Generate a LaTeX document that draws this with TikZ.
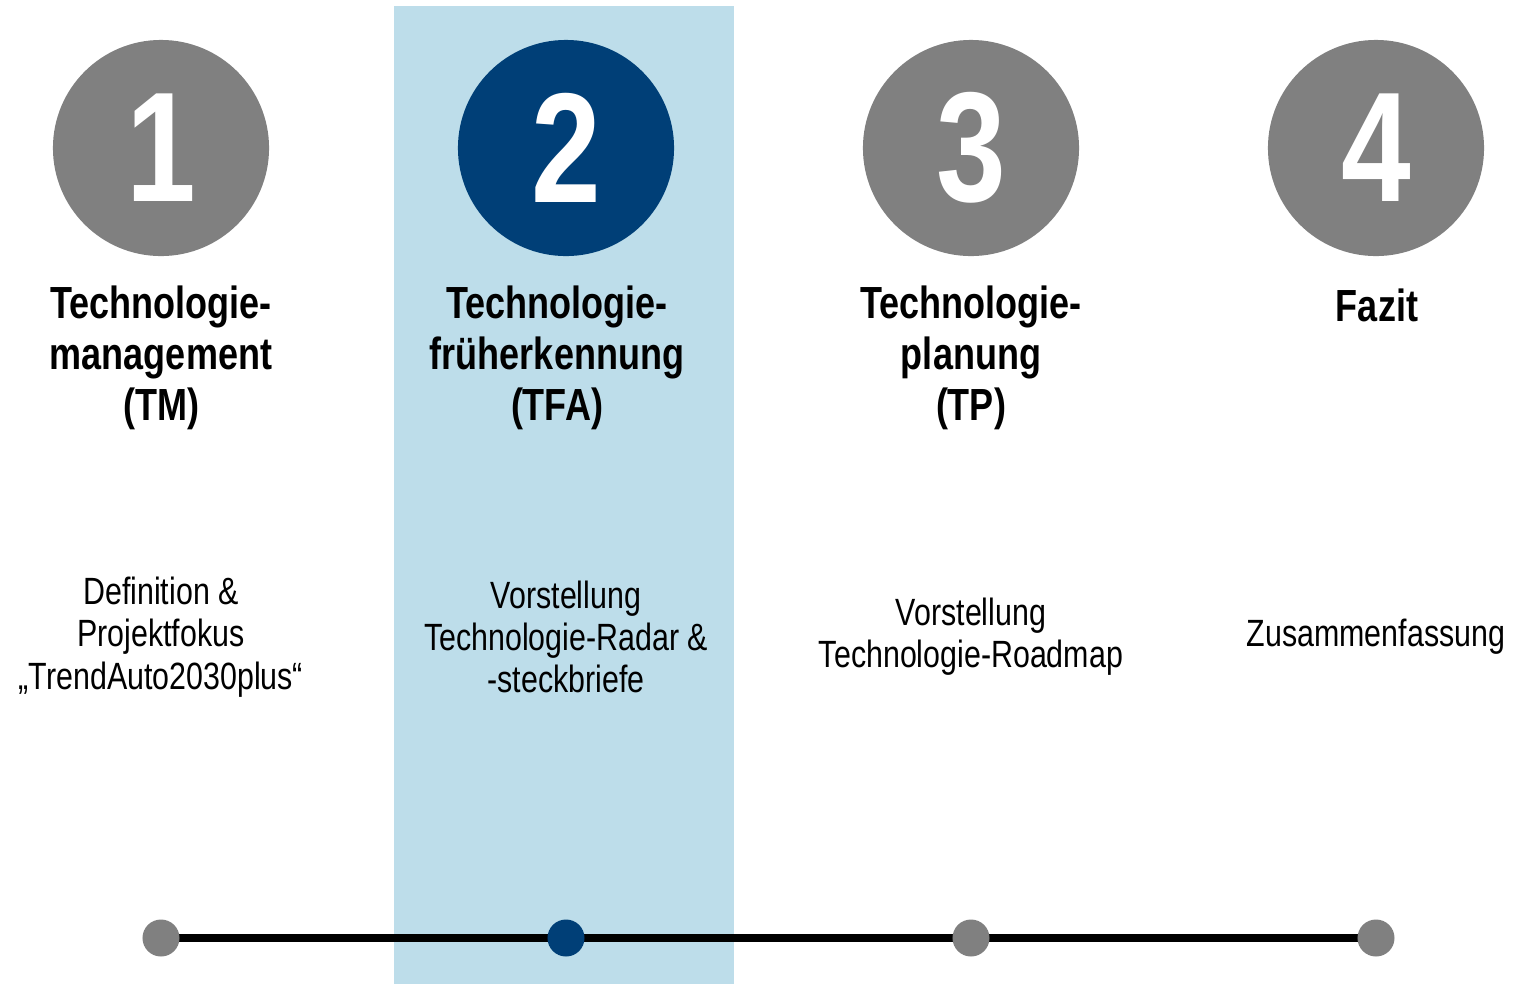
\documentclass[tikz,border=0pt]{standalone}
\usepackage{fontspec}
\setmainfont{Liberation Sans}[FakeStretch=0.8]
\usetikzlibrary{backgrounds}
\definecolor{circgray}{HTML}{808080}
\definecolor{darkblue}{HTML}{003F77}
\definecolor{lightblue}{HTML}{BDDDEA}
\begin{document}
\begin{tikzpicture}[x=0.01cm,y=-0.01cm,
  numcircle/.style={circle,minimum size=2.16cm,inner sep=0pt,fill=circgray,text=white,
    font=\fontsize{44.5}{44.5}\selectfont\bfseries},
  titletext/.style={align=center,inner sep=0pt,font=\fontsize{12.8}{14.6}\selectfont\bfseries},
  bodytext/.style={align=center,inner sep=0pt,font=\fontsize{10.8}{12}\selectfont},
  dotnode/.style={circle,minimum size=0.37cm,inner sep=0pt,fill=circgray}]
\useasboundingbox (0,0) rectangle (1514,984);
\node[numcircle] (c1) at (161,148) {1};
\node[numcircle,fill=darkblue] (c2) at (566,148) {2};
\node[numcircle] (c3) at (971,148) {3};
\node[numcircle] (c4) at (1376,148) {4};
\node[titletext] (t1) at (161,358) {Technologie-\\management\\(TM)};
\node[titletext] (t2) at (557,358) {Technologie-\\früherkennung\\(TFA)};
\node[titletext] (t3) at (971,358) {Technologie-\\planung\\(TP)};
\node[titletext] (t4) at (1377,305) {Fazit};
\node[bodytext] (b1) at (161,637) {Definition \&\\Projektfokus\\„TrendAuto2030plus“};
\node[bodytext] (b2) at (566,637) {Vorstellung\\Technologie-Radar \&\\-steckbriefe};
\node[bodytext] (b3) at (971,637) {Vorstellung\\Technologie-Roadmap};
\node[bodytext] (b4) at (1376,637) {Zusammenfassung};
\node[dotnode] (d1) at (161,938) {};
\node[dotnode,fill=darkblue] (d2) at (566,938) {};
\node[dotnode] (d3) at (971,938) {};
\node[dotnode] (d4) at (1376,938) {};
\begin{pgfonlayer}{background}
\fill[lightblue] (394,6) rectangle (734,984);
\draw[line width=2pt] (d1.center) -- (d2.center) -- (d3.center) -- (d4.center);
\end{pgfonlayer}
\end{tikzpicture}
\end{document}
